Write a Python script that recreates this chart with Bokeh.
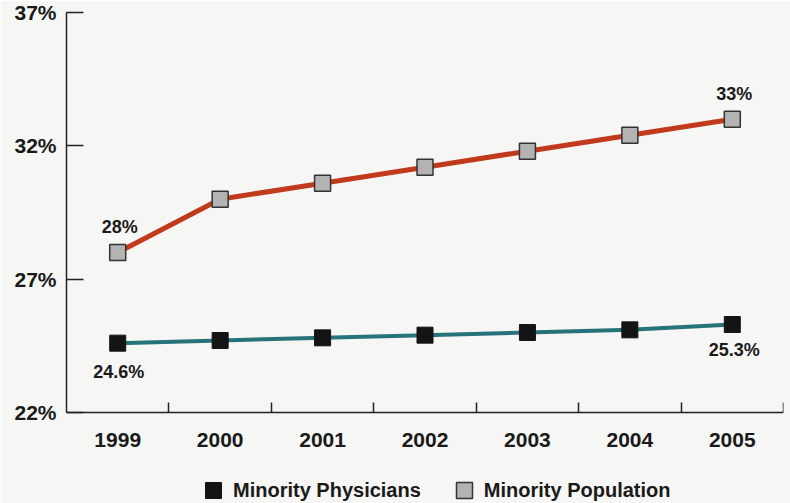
from bokeh.plotting import figure
from bokeh.models import (Range1d, FixedTicker, PrintfTickFormatter, Legend, LegendItem,
                          ColumnDataSource)
from bokeh.core.properties import value
from bokeh.embed import file_html
from bokeh.resources import INLINE

years = ["1999", "2000", "2001", "2002", "2003", "2004", "2005"]
minority_physicians = [24.6, 24.7, 24.8, 24.9, 25.0, 25.1, 25.3]
minority_population = [28.0, 30.0, 30.6, 31.2, 31.8, 32.4, 33.0]
y_ticks = [22, 27, 32, 37]
series_names = ["Minority Physicians", "Minority Population"]

FONT = "Liberation Sans"
BG = "#f6f6f4"

Y_MIN, Y_MAX = 22, 37
# frame runs to the bottom of the page (room for the legend); axis sits at Y_MIN
PLOT_TOP, AXIS_Y, PAGE_H = 12, 412, 503
y_low = Y_MIN - (PAGE_H - AXIS_Y) * (Y_MAX - Y_MIN) / (AXIS_Y - PLOT_TOP)

xs = list(range(len(years)))

p = figure(width=790, height=PAGE_H, output_backend="svg", toolbar_location=None,
           x_range=Range1d(-0.5, len(years) - 0.5), y_range=Range1d(y_low, Y_MAX),
           min_border_left=66, min_border_right=7, min_border_top=PLOT_TOP, min_border_bottom=0,
           background_fill_color=BG, border_fill_color=BG, outline_line_color=None)
p.grid.visible = False

# x axis: labels at category centres, tick marks between categories
xa = p.xaxis[0]
xa.fixed_location = Y_MIN
xa.ticker = FixedTicker(ticks=xs, minor_ticks=[i + 0.5 for i in xs])
xa.major_label_overrides = {i: y for i, y in zip(xs, years)}
xa.major_tick_line_color = None
xa.minor_tick_in = 10
xa.minor_tick_out = 0
xa.minor_tick_line_color = "#222222"
xa.minor_tick_line_width = 1.5
xa.axis_line_color = "#222222"
xa.axis_line_width = 1.5
xa.major_label_text_font = FONT
xa.major_label_text_font_style = "bold"
xa.major_label_text_font_size = "21px"
xa.major_label_text_color = "#1a1a1a"
xa.major_label_standoff = 14

ya = p.yaxis[0]
ya.bounds = (Y_MIN, Y_MAX)
ya.ticker = FixedTicker(ticks=y_ticks, minor_ticks=[])
ya.formatter = PrintfTickFormatter(format="%d%%")
ya.major_tick_in = 17
ya.major_tick_out = 0
ya.major_tick_line_color = "#222222"
ya.major_tick_line_width = 1.5
ya.axis_line_color = "#222222"
ya.axis_line_width = 1.5
ya.major_label_text_font = FONT
ya.major_label_text_font_style = "bold"
ya.major_label_text_font_size = "21px"
ya.major_label_text_color = "#1a1a1a"
ya.major_label_standoff = 10

# lines
p.line(xs, minority_population, line_color="#c23a1c", line_width=5)
p.line(xs, minority_physicians, line_color="#27737c", line_width=4)

r_pop = p.scatter(xs, minority_population, marker="square", size=16,
                  fill_color="#b3b3b3", line_color="#333333", line_width=1.5)
r_phys = p.scatter(xs, minority_physicians, marker="square", size=16,
                   fill_color="#141414", line_color="#141414", line_width=1)

# value labels at first and last point
lab_src = ColumnDataSource(dict(
    x=[xs[0], xs[-1], xs[0], xs[-1]],
    y=[minority_population[0], minority_population[-1], minority_physicians[0], minority_physicians[-1]],
    text=["28%", "33%", "24.6%", "25.3%"],
    dy=[-26, -25, 29, 25],
    dx=[2, 2, 1, 2],
))
p.text(x="x", y="y", text="text", x_offset="dx", y_offset="dy", source=lab_src,
       text_font=value(FONT), text_font_style="bold", text_font_size="18px",
       text_color="#1a1a1a", text_align="center", text_baseline="middle")

legend = Legend(items=[LegendItem(label=series_names[0], renderers=[r_phys]),
                       LegendItem(label=series_names[1], renderers=[r_pop])],
                orientation="horizontal", location=(127, -7),
                glyph_width=40, glyph_height=40, label_standoff=0, spacing=23,
                padding=0, margin=0, border_line_color=None, background_fill_alpha=0,
                label_text_font=FONT, label_text_font_style="bold",
                label_text_font_size="20px", label_text_color="#1a1a1a")
p.add_layout(legend, "center")

open("out.html", "w").write(file_html(p, INLINE))
